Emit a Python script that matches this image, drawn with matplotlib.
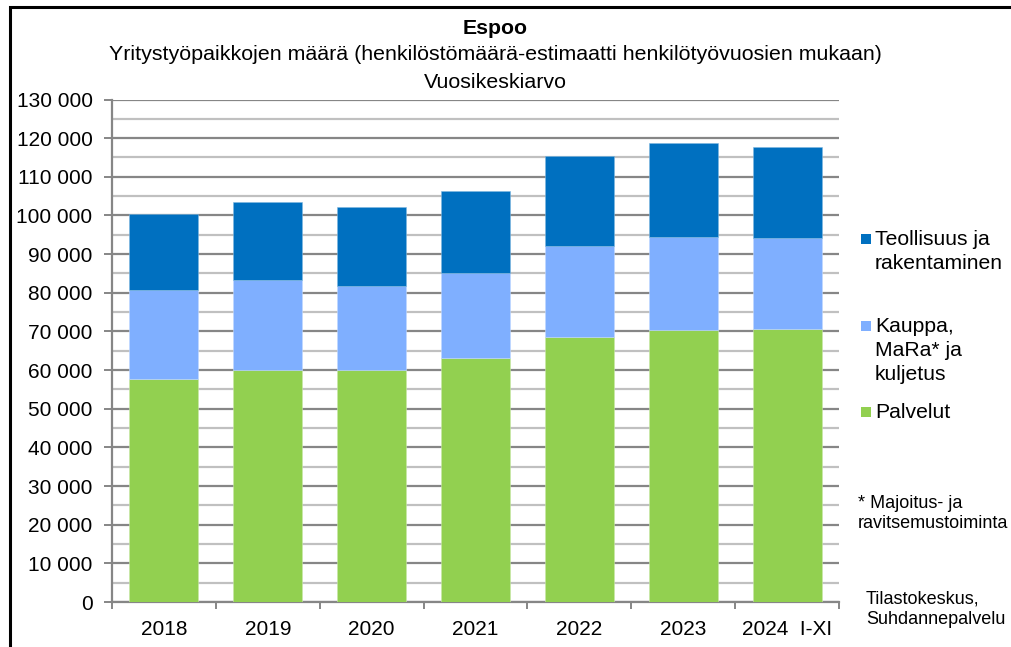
import matplotlib.pyplot as plt
from matplotlib.patches import Rectangle
from matplotlib.ticker import MultipleLocator, FuncFormatter
import numpy as np

plt.rcParams['font.family'] = ['Liberation Sans', 'DejaVu Sans']

years = ['2018', '2019', '2020', '2021', '2022', '2023', '2024  I-XI']
palvelut = [57600, 60100, 60000, 63100, 68600, 70400, 70600]
kauppa = [23150, 23300, 21700, 22100, 23500, 23900, 23500]
teollisuus = [19650, 20150, 20400, 21200, 23300, 24400, 23500]

c_teo = '#0070c0'
c_kau = '#7fafff'
c_pal = '#92d050'
major_grid = '#868686'
minor_grid = '#c0c0c0'

W, H = 1011, 647
fig = plt.figure(figsize=(W / 100, H / 100), dpi=100)
ax = fig.add_axes([112 / W, (H - 602) / H, (839 - 112) / W, (602 - 99.5) / H])

x = np.arange(len(years))
bw = 0.665
pal = np.array(palvelut)
kau = np.array(kauppa)
teo = np.array(teollisuus)
ax.bar(x, pal, bw, color=c_pal, zorder=3, edgecolor='#c8e8a8', linewidth=0.4)
ax.bar(x, kau, bw, bottom=pal, color=c_kau, zorder=3, edgecolor='#c0d8ff', linewidth=0.4)
ax.bar(x, teo, bw, bottom=pal + kau, color=c_teo, zorder=3, edgecolor='#80b8e0', linewidth=0.4)

ax.set_xlim(-0.5, len(years) - 0.5)
ax.set_ylim(0, 130000)
ax.yaxis.set_major_locator(MultipleLocator(10000))
ax.yaxis.set_minor_locator(MultipleLocator(5000))
ax.yaxis.set_major_formatter(FuncFormatter(lambda v, p: f"{int(v):,}".replace(",", " ")))
ax.grid(axis='y', which='major', color=major_grid, linewidth=1.6, zorder=0)
ax.grid(axis='y', which='minor', color=minor_grid, linewidth=1.6, zorder=0)
ax.set_axisbelow(True)

ax.set_xticks(x)
ax.set_xticklabels(years)
ax.set_xticks(np.arange(len(years) + 1) - 0.5, minor=True)
ax.tick_params(axis='x', which='major', length=0, pad=13, labelsize=15)
ax.tick_params(axis='x', which='minor', length=5, width=1.4, color=major_grid, direction='out')
ax.tick_params(axis='y', which='major', length=6, width=1.4, color=major_grid, pad=8, labelsize=15)
ax.tick_params(axis='y', which='minor', length=0)

for s in ['top', 'right']:
    ax.spines[s].set_visible(False)
for s in ['left', 'bottom']:
    ax.spines[s].set_color(major_grid)
    ax.spines[s].set_linewidth(1.6)

# titles
fig.text(495 / W, 1 - 28 / H, 'Espoo', ha='center', va='center', fontsize=15.3, fontweight='bold')
fig.text(495 / W, 1 - 55 / H, 'Yritystyöpaikkojen määrä (henkilöstömäärä-estimaatti henkilötyövuosien mukaan)',
         ha='center', va='center', fontsize=15.4)
fig.text(495 / W, 1 - 82 / H, 'Vuosikeskiarvo', ha='center', va='center', fontsize=15.4)

# legend
legend_items = [
    (c_teo, 'Teollisuus ja\nrakentaminen', 239),
    (c_kau, 'Kauppa,\nMaRa* ja\nkuljetus', 326),
    (c_pal, 'Palvelut', 412),
]
for col, lab, yc in legend_items:
    fig.patches.append(Rectangle((861 / W, 1 - (yc + 5) / H), 10 / W, 10 / H,
                                 transform=fig.transFigure, facecolor=col, edgecolor='none'))
    fig.text(875 / W, 1 - (yc - 9) / H, lab, ha='left', va='top', fontsize=15.2, linespacing=1.32)

fig.text(858 / W, 1 - 495 / H, '* Majoitus- ja\nravitsemustoiminta', ha='left', va='top', fontsize=13, linespacing=1.25)
fig.text(866 / W, 1 - 591 / H, 'Tilastokeskus,\nSuhdannepalvelu', ha='left', va='top', fontsize=13, linespacing=1.25)

# outer frame
fig.patches.append(Rectangle((10 / W, -0.1), 1.2, 1.1 - 7 / H, transform=fig.transFigure,
                             facecolor='none', edgecolor='black', linewidth=2.2))

fig.savefig('out.png', dpi=100)
